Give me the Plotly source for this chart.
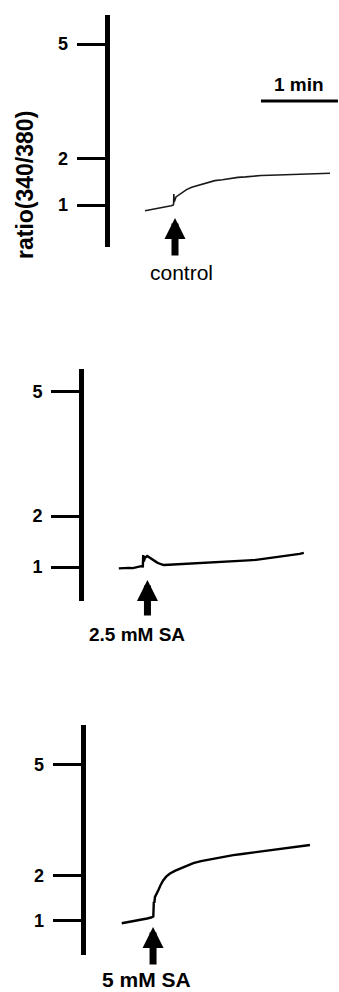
import plotly.graph_objects as go

# Fura-2 ratio traces (time in s, ratio 340/380)
t_control = [29.6, 32, 35, 38, 41, 44, 47, 50, 51.6, 51.9, 52.1, 52.4, 53.8, 56, 59, 62, 66, 70, 74,
             79, 84, 90, 96, 102, 108, 114, 120, 127, 134, 140, 147, 154, 160, 167, 173.8]
r_control = [0.89, 0.90, 0.91, 0.92, 0.935, 0.95, 0.96, 0.985, 1.00, 1.02, 1.22, 1.06, 1.16, 1.20, 1.27,
             1.31, 1.36, 1.39, 1.43, 1.47, 1.50, 1.52, 1.55, 1.57, 1.58, 1.60, 1.61, 1.615, 1.62,
             1.625, 1.63, 1.64, 1.645, 1.65, 1.66]

t_sa25 = [29.1, 31, 34, 37, 40, 43, 46, 47.5, 47.8, 48.1, 48.6, 49.5, 51.2, 53, 56, 59, 62, 64.1, 68,
          72, 76, 80, 85, 90, 95, 100, 106, 112, 118, 124, 130, 136, 142, 148, 154, 160, 166, 170,
          173.3]
r_sa25 = [0.975, 0.98, 0.975, 0.985, 0.98, 0.995, 1.01, 1.02, 0.99, 1.22, 1.10, 1.17, 1.20, 1.17,
          1.12, 1.08, 1.05, 1.035, 1.04, 1.045, 1.04, 1.05, 1.055, 1.06, 1.065, 1.07, 1.08, 1.085,
          1.095, 1.11, 1.12, 1.13, 1.15, 1.17, 1.18, 1.20, 1.22, 1.24, 1.26]

t_sa5 = [30.2, 34, 38, 42, 46, 50, 53, 54.8, 55.2, 55.6, 56.1, 57.3, 58.7, 60.5, 62.6, 65, 67.8, 72,
         77, 82, 86, 92, 98, 104, 110, 117.1, 124, 131, 137, 143.2, 150, 157, 164, 170, 176.9]
r_sa5 = [0.954, 0.97, 0.99, 1.01, 1.03, 1.05, 1.07, 1.09, 1.40, 1.38, 1.51, 1.57, 1.66, 1.78, 1.89,
         1.98, 2.05, 2.12, 2.18, 2.25, 2.30, 2.35, 2.39, 2.42, 2.46, 2.50, 2.53, 2.56, 2.58, 2.61,
         2.64, 2.67, 2.70, 2.73, 2.76]

# stimulus application times (s)
stim_times = [53.0, 51.4, 54.6]
stim_labels = ["control", "2.5 mM SA", "5 mM SA"]

tick_values = [1, 2, 5]
tick_labels = ["1", "2", "5"]

FONT = "Liberation Sans, Arial, Helvetica, sans-serif"
W, H = 339, 992
PX_PER_S = 1.283


def scale(v):
    # compressive ratio scale used on the ordinate
    return v ** 0.75


def py(px):
    return 1 - px / H


panels = [
    dict(t=t_control, r=r_control, ax_px=107, top=15, bot=247, yr=[0.389, 3.766], lw=1.6,
         col="#1a1a1a", tip=218, tail=257),
    dict(t=t_sa25, r=r_sa25, ax_px=81.5, top=369, bot=601, yr=[0.545, 3.651], lw=2.4,
         col="#000000", tip=580, tail=617),
    dict(t=t_sa5, r=r_sa5, ax_px=83, top=725, bot=955, yr=[0.489, 3.943], lw=2.4,
         col="#000000", tip=927, tail=966),
]

fig = go.Figure()
layout = dict(width=W, height=H, margin=dict(l=0, r=0, t=0, b=0),
              paper_bgcolor="white", plot_bgcolor="white", showlegend=False)
annotations = []
shapes = []

for i, p in enumerate(panels, start=1):
    xa = "x" if i == 1 else f"x{i}"
    ya = "y" if i == 1 else f"y{i}"
    fig.add_trace(go.Scatter(x=p["t"], y=[scale(v) for v in p["r"]], mode="lines",
                             line=dict(color=p["col"], width=p["lw"]),
                             xaxis=xa, yaxis=ya, hoverinfo="skip"))
    dl = p["ax_px"] + 2.5
    layout[f"xaxis{'' if i == 1 else i}"] = dict(
        domain=[dl / W, 1], range=[(dl - p["ax_px"]) / PX_PER_S, (W - p["ax_px"]) / PX_PER_S],
        visible=False, anchor=ya, fixedrange=True)
    layout[f"yaxis{'' if i == 1 else i}"] = dict(
        domain=[py(p["bot"]), py(p["top"])], range=p["yr"], anchor=xa,
        showline=True, linewidth=5, linecolor="black", showgrid=False, zeroline=False,
        ticks="outside", ticklen=28, tickwidth=2.5, tickcolor="black",
        tickvals=[scale(v) for v in tick_values], ticktext=tick_labels,
        ticklabelstandoff=5,
        tickfont=dict(family=FONT, size=18, color="black", weight="bold"))
    # stimulus arrow
    annotations.append(dict(x=stim_times[i - 1], xref=xa, y=py(p["tip"]), yref="paper",
                            ax=0, ay=p["tail"] - p["tip"], axref="pixel", ayref="pixel",
                            text="", showarrow=True, arrowhead=2, arrowsize=0.6,
                            arrowwidth=7, arrowcolor="black", standoff=0))

centered = dict(xref="paper", yref="paper", xanchor="center", yanchor="middle", showarrow=False)

# stimulus labels
annotations.append(dict(x=181 / W, y=py(272), text=stim_labels[0],
                        font=dict(family=FONT, size=21, color="black"), **centered))
annotations.append(dict(x=137 / W, y=py(634), text=stim_labels[1],
                        font=dict(family=FONT, size=19, color="black", weight="bold"), **centered))
annotations.append(dict(x=146 / W, y=py(979), text=stim_labels[2],
                        font=dict(family=FONT, size=21, color="black", weight="bold"), **centered))

# y-axis title
annotations.append(dict(x=25 / W, y=py(185), text="ratio(340/380)", textangle=-90,
                        font=dict(family=FONT, size=23, color="black", weight="bold"), **centered))

# 1 min scale bar
shapes.append(dict(type="line", xref="x", yref="paper", x0=120, x1=180, y0=py(101), y1=py(101),
                   line=dict(color="black", width=3)))
annotations.append(dict(x=150, xref="x", y=py(84), yref="paper", xanchor="center",
                        yanchor="middle", text="1 min", showarrow=False,
                        font=dict(family=FONT, size=19, color="black", weight="bold")))

layout["annotations"] = annotations
layout["shapes"] = shapes
fig.update_layout(**layout)
fig.write_html("out.html")
